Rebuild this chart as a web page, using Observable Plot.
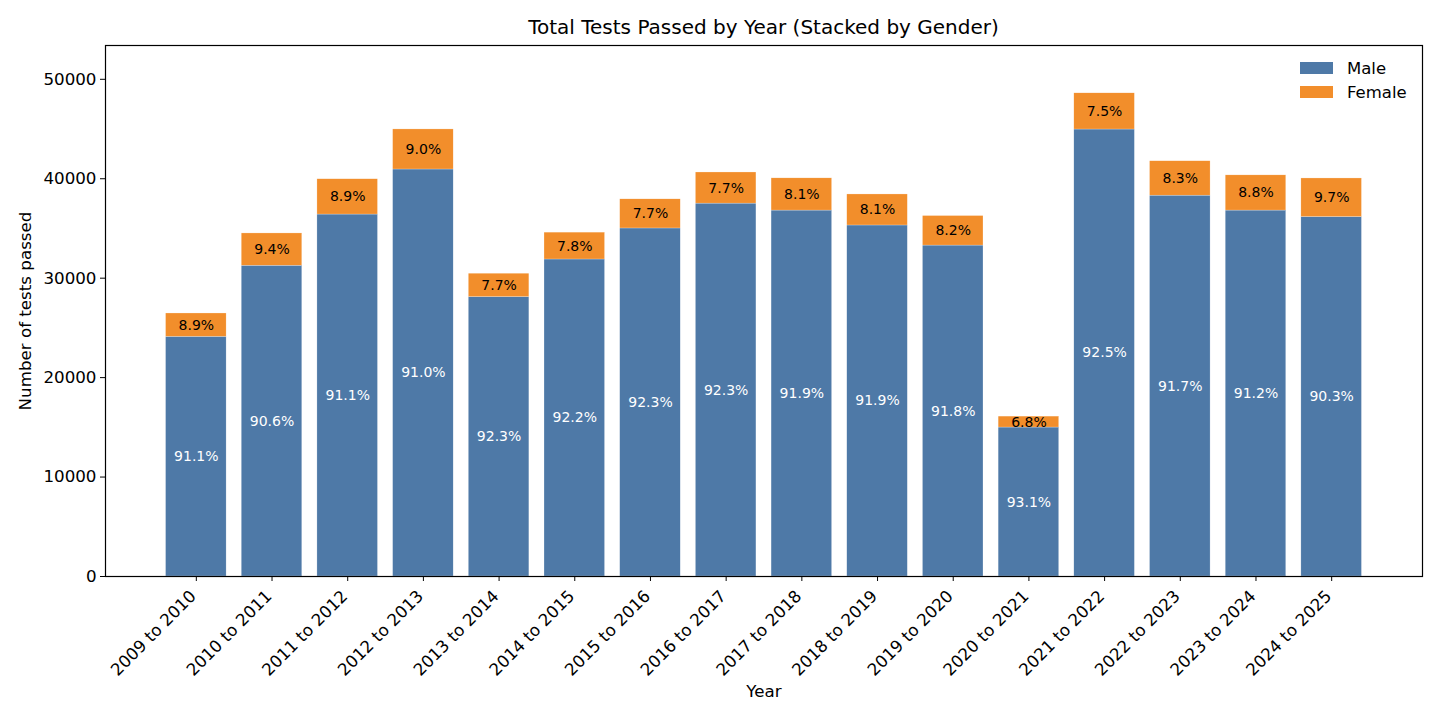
<!DOCTYPE html>
<html><head><meta charset="utf-8">
<script src="https://cdn.jsdelivr.net/npm/d3@7"></script>
<script src="https://cdn.jsdelivr.net/npm/@observablehq/plot@0.6"></script>
<style>
body{margin:0;background:#fff;font-family:"DejaVu Sans",sans-serif;}
#wrap{position:relative;width:1440px;height:720px;}
#title{position:absolute;left:105px;width:1317px;top:15px;text-align:center;font-size:20px;color:#000;}
#chart{position:absolute;left:0;top:40px;}
#legend{position:absolute;left:1300px;top:56px;font-size:16.5px;color:#000;}
#legend div{display:flex;align-items:center;height:24px;}
#legend span.sw{display:inline-block;width:33px;height:12px;margin-right:14px;}
</style></head>
<body><div id="wrap"><div id="title">Total Tests Passed by Year (Stacked by Gender)</div><div id="chart"></div>
<div id="legend"><div><span class="sw" style="background:#4e79a7"></span>Male</div><div><span class="sw" style="background:#f28e2b"></span>Female</div></div></div>
<script>
const years = ["2009 to 2010","2010 to 2011","2011 to 2012","2012 to 2013","2013 to 2014","2014 to 2015","2015 to 2016","2016 to 2017","2017 to 2018","2018 to 2019","2019 to 2020","2020 to 2021","2021 to 2022","2022 to 2023","2023 to 2024","2024 to 2025"];
const male = [24100, 31250, 36400, 40930, 28100, 31880, 35000, 37500, 36800, 35300, 33280, 14980, 44950, 38300, 36800, 36150];
const female = [2350, 3250, 3550, 4030, 2350, 2700, 2930, 3130, 3240, 3120, 2970, 1100, 3640, 3460, 3540, 3880];
const malePct = ["91.1%","90.6%","91.1%","91.0%","92.3%","92.2%","92.3%","92.3%","91.9%","91.9%","91.8%","93.1%","92.5%","91.7%","91.2%","90.3%"];
const femalePct = ["8.9%","9.4%","8.9%","9.0%","7.7%","7.8%","7.7%","7.7%","8.1%","8.1%","8.2%","6.8%","7.5%","8.3%","8.8%","9.7%"];
const yTicks = [0, 10000, 20000, 30000, 40000, 50000];

const rows = [];
years.forEach((yr, i) => {
  rows.push({year: yr, gender: "Male", y1: 0, y2: male[i], mid: male[i] / 2, label: malePct[i]});
  rows.push({year: yr, gender: "Female", y1: male[i], y2: male[i] + female[i], mid: male[i] + female[i] / 2, label: femalePct[i]});
});

const chart = Plot.plot({
  width: 1440,
  height: 680,
  marginLeft: 105,
  marginRight: 18,
  marginTop: 5,
  marginBottom: 144,
  style: {fontFamily: "DejaVu Sans", fontSize: "16.7px", color: "#000", background: "#fff"},
  x: {domain: years, paddingInner: 0.2, paddingOuter: 0.8, round: false, label: "Year", labelAnchor: "center", labelOffset: 120},
  y: {domain: [0, 53400], ticks: yTicks, tickFormat: d3.format("d"), label: "Number of tests passed", labelAnchor: "center", labelOffset: 86, labelArrow: "none", tickSize: 5},
  color: {domain: ["Male", "Female"], range: ["#4e79a7", "#f28e2b"]},
  marks: [
    Plot.barY(rows, {x: "year", y1: "y1", y2: "y2", fill: "gender", stroke: "white", strokeWidth: 0.4, strokeOpacity: 0.6}),
    Plot.text(rows.filter(d => d.gender === "Male"), {x: "year", y: "mid", text: "label", fill: "white", fontSize: 14}),
    Plot.text(rows.filter(d => d.gender === "Female"), {x: "year", y: "mid", text: "label", fill: "black", fontSize: 14}),
    Plot.axisX({tickSize: 5, tickFormat: () => "", label: null}),
    Plot.axisX({tickRotate: -45, tickSize: 0, tickPadding: 17, dx: -3, label: "Year", labelAnchor: "center", labelOffset: 120}),
    Plot.frame({stroke: "black", strokeWidth: 1.2})
  ]
});
document.getElementById("chart").appendChild(chart);
</script></body></html>
